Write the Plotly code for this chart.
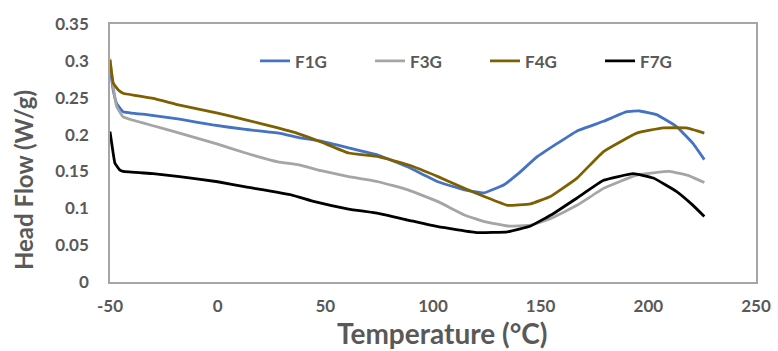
import plotly.graph_objects as go

temp_f1g = [-50, -48.5, -46.9, -43.9, -33, -17.7, -2.3, 13, 28.5, 37.7, 48, 60.8, 74.6, 88.4, 102.3, 114.6, 123.8, 133, 140, 148.4, 157.7, 166.9, 179.2, 190, 196, 203.8, 213, 220.7, 226]
hf_f1g = [0.292, 0.26, 0.242, 0.231, 0.227, 0.221, 0.213, 0.207, 0.202, 0.196, 0.191, 0.182, 0.172, 0.156, 0.136, 0.125, 0.121, 0.132, 0.148, 0.170, 0.188, 0.205, 0.218, 0.231, 0.232, 0.227, 0.211, 0.188, 0.166]

temp_f3g = [-50, -48.5, -46.9, -43.9, -30, -17.7, 0, 13, 28, 37.7, 48, 60.8, 74.6, 88.4, 102.3, 114.6, 123.8, 134.6, 145.3, 154.5, 166.9, 179.2, 194.6, 209.8, 219, 226]
hf_f3g = [0.303, 0.265, 0.238, 0.224, 0.212, 0.202, 0.187, 0.175, 0.163, 0.159, 0.151, 0.143, 0.136, 0.125, 0.109, 0.091, 0.082, 0.076, 0.077, 0.086, 0.104, 0.127, 0.145, 0.150, 0.144, 0.135]

temp_f4g = [-50, -48.5, -46, -43.9, -30, -17.7, 0, 13, 28, 37.7, 48, 60.8, 74.6, 88.4, 102.3, 114.6, 123.8, 134.6, 145.3, 154.5, 166.9, 179.2, 194.6, 206.9, 217.7, 226]
hf_f4g = [0.301, 0.27, 0.26, 0.256, 0.249, 0.240, 0.229, 0.220, 0.209, 0.201, 0.190, 0.175, 0.170, 0.159, 0.143, 0.127, 0.116, 0.104, 0.106, 0.116, 0.141, 0.177, 0.202, 0.209, 0.209, 0.202]

temp_f7g = [-50, -48.8, -47.7, -45.5, -43.9, -30, -17.7, 0, 13, 34.5, 45, 60.8, 74.6, 88.4, 102.3, 120.7, 134.6, 145.3, 156, 166.9, 179.2, 193, 202.3, 213, 220, 226]
hf_f7g = [0.204, 0.18, 0.161, 0.152, 0.150, 0.147, 0.143, 0.136, 0.129, 0.118, 0.109, 0.099, 0.093, 0.084, 0.075, 0.067, 0.068, 0.076, 0.093, 0.114, 0.138, 0.147, 0.141, 0.123, 0.106, 0.089]

x_ticks = [-50, 0, 50, 100, 150, 200, 250]
x_tick_text = ["-50", "0", "50", "100", "150", "200", "250"]
y_ticks = [0, 0.05, 0.1, 0.15, 0.2, 0.25, 0.3, 0.35]
y_tick_text = ["0", "0.05", "0.1", "0.15", "0.2", "0.25", "0.3", "0.35"]
x_title = "Temperature (°C)"
y_title = "Head Flow (W/g)"

series = [
    ("F1G", temp_f1g, hf_f1g, "#4472C4"),
    ("F3G", temp_f3g, hf_f3g, "#A5A5A5"),
    ("F4G", temp_f4g, hf_f4g, "#7F6000"),
    ("F7G", temp_f7g, hf_f7g, "#000000"),
]

fig = go.Figure()
for name, xs, ys, color in series:
    fig.add_trace(go.Scatter(x=xs, y=ys, name=name, mode="lines",
                             line=dict(color=color, width=2.8, shape="spline", smoothing=0.3)))

text_color = "#595959"
font_family = "Lato, Open Sans, sans-serif"

fig.update_layout(
    width=778, height=351,
    margin=dict(l=110, r=22, t=24, b=69),
    paper_bgcolor="white", plot_bgcolor="white",
    font=dict(family=font_family, color=text_color, size=17, weight="bold"),
    showlegend=True,
    legend=dict(orientation="h", x=0.2245, y=0.855, xanchor="left", yanchor="middle",
                bgcolor="rgba(0,0,0,0)", entrywidth=70, entrywidthmode="pixels",
                font=dict(size=17, color=text_color, weight="bold")),
    xaxis=dict(range=[-50, 250], tickvals=x_ticks, ticktext=x_tick_text, showgrid=False,
               zeroline=False, showline=True, linecolor="#A6A6A6", linewidth=1.5, mirror=True,
               ticks="", ticklabelstandoff=8, automargin=False,
               tickfont=dict(size=17, color=text_color, weight="bold")),
    yaxis=dict(range=[0, 0.35], tickvals=y_ticks, ticktext=y_tick_text, showgrid=False,
               zeroline=False, showline=True, linecolor="#A6A6A6", linewidth=1.5, mirror=True,
               ticks="", ticklabelstandoff=16, automargin=False,
               tickfont=dict(size=17, color=text_color, weight="bold")),
    annotations=[
        dict(text=x_title, xref="paper", yref="paper", x=0.514, y=-0.196,
             xanchor="center", yanchor="middle", showarrow=False, borderpad=0,
             font=dict(size=28, color=text_color, weight="bold")),
        dict(text=y_title, xref="paper", yref="paper", x=-0.1347, y=0.395,
             xanchor="center", yanchor="middle", showarrow=False, textangle=-90,
             font=dict(size=24, color=text_color, weight="bold")),
    ],
)

fig.write_html("out.html", config={"displayModeBar": False},
               post_script="document.body.style.margin='0';")
